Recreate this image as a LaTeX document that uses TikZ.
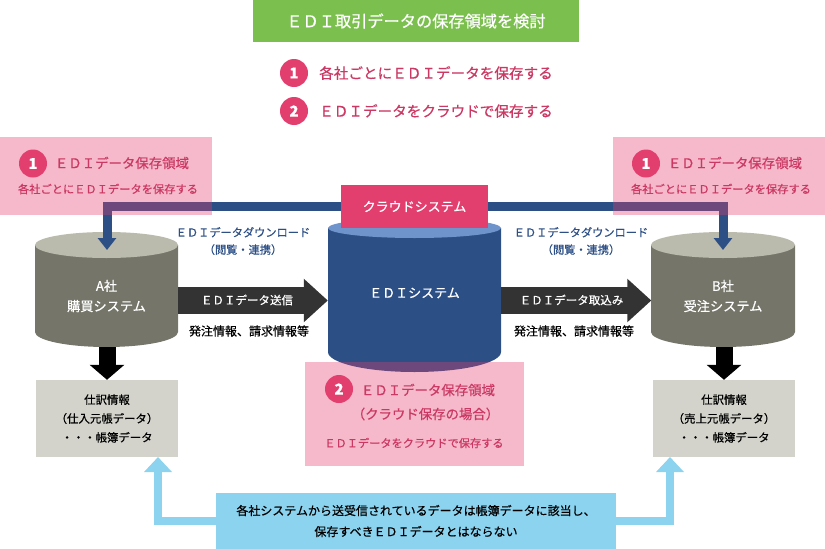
\documentclass[tikz,border=0pt]{standalone}
\usepackage{fontspec}
\setmainfont{Noto Sans CJK JP}[FakeBold=0.5]
\usetikzlibrary{arrows.meta}
\definecolor{crim}{HTML}{E23E6E}
\definecolor{leaf}{HTML}{7BC04E}
\definecolor{navy}{HTML}{2C4F85}
\definecolor{navytop}{HTML}{6F94CB}
\definecolor{sky}{HTML}{8BD3EE}
\definecolor{stone}{HTML}{75756A}
\definecolor{stonetop}{HTML}{BABAAD}
\definecolor{mist}{HTML}{D3D3CB}
\newcommand{\fsz}[1]{\fontsize{#1}{#1}\selectfont}
\tikzset{
    label/.style={inner sep=0pt, align=center, text=#1},
    redlabel/.style={label=crim!90!black},
    pinkbox/.style={fill=crim, fill opacity=.36, text opacity=1, inner sep=0pt},
    numdot/.style={circle, fill=crim, text=white, inner sep=0pt, minimum size=28pt, font=\fsz{15}\bfseries},
    navyline/.style={draw=navy, line width=9pt, -{Triangle[length=12pt,width=18pt]}},
    darkline/.style={draw=black!80, line width=27pt, -{Triangle[length=24pt,width=42pt]}},
    blackline/.style={draw=black, line width=17pt, -{Triangle[length=15pt,width=34pt]}},
    skyline/.style={draw=sky, line width=8.5pt, -{Triangle[length=15pt,width=27pt]}},
    system/.style={inner sep=0pt, text=white, align=center, minimum width=143pt, font=\fsz{13.2}},
    ledger/.style={fill=mist, inner sep=0pt, align=center, minimum width=142pt, minimum height=77pt, font=\fsz{11.4}, text=black},
}
% #1 centre x, #2 half width, #3 side top, #4 side bottom, #5 top radius, #6 bottom radius
\newcommand{\drum}[8]{
    \fill[#7] (#1-#2,#3) -- (#1-#2,#4) arc[start angle=180, end angle=360, x radius=#2, y radius=-#6]
        -- (#1+#2,#3) -- cycle;
    \fill[#8] (#1,#3) ellipse[x radius=#2, y radius=#5];
}
\begin{document}
\begin{tikzpicture}[x=1pt, y=-1pt]

    \useasboundingbox (0,0) rectangle (825,549);

    \drum{106.5}{71.5}{245}{332}{13}{15}{stone}{stonetop}
    \drum{723}{72}{245}{332}{13}{15}{stone}{stonetop}
    \drum{414.5}{86.5}{228}{352}{10}{20}{navy}{navytop}

    \node[system, minimum height=102pt] (sysA) at (106.5,296) {A社\\[7pt]購買システム};
    \node[system, minimum height=102pt] (sysB) at (723,296) {B社\\[7pt]受注システム};
    \node[system, minimum width=173pt, minimum height=152pt] (sysEDI) at (414.5,296) {};
    \node[label=white, font=\fsz{13}] (sysEDItext) at (414.5,293) {ＥＤＩシステム};

    \node[fill=crim, text=white, inner sep=0pt, minimum width=147pt, minimum height=43pt, font=\fsz{13}]
        (cloud) at (414.5,206.5) {クラウドシステム};

    \coordinate (tipA) at (107,250);
    \coordinate (tipB) at (723,250);
    \draw[navyline] (cloud.west) -| (tipA);
    \draw[navyline] (cloud.east) -| (tipB);

    \draw[darkline] (sysA.east |- 0,300.5) -- (sysEDI.west |- 0,300.5);
    \draw[darkline] (sysEDI.east |- 0,300.5) -- (sysB.west |- 0,300.5);

    \node[label=white, font=\fsz{11.5}] (sendtext) at (247,300) {ＥＤＩデータ送信};
    \node[label=white, font=\fsz{11.5}] (recvtext) at (571.5,300) {ＥＤＩデータ取込み};
    \node[label=black, font=\fsz{12}] (sendinfo) at (249,331) {発注情報、請求情報等};
    \node[label=black, font=\fsz{12}] (recvinfo) at (574,331) {発注情報、請求情報等};

    \node[label=navy, font=\fsz{11.2}] (dlA) at (243,241) {ＥＤＩデータダウンロード\\[6pt]（閲覧・連携）};
    \node[label=navy, font=\fsz{11.2}] (dlB) at (581,241) {ＥＤＩデータダウンロード\\[6pt]（閲覧・連携）};

    \node[pinkbox, minimum width=212pt, minimum height=78pt] (pinkA) at (106,176) {};
    \node[pinkbox, minimum width=212pt, minimum height=78pt] (pinkB) at (719,176) {};
    \node[pinkbox, minimum width=219pt, minimum height=104pt] (pinkC) at (414.5,414) {};

    \node[numdot] (numA) at (33,163.5) {1};
    \node[numdot] (numB) at (646,163.5) {1};
    \node[numdot] (numC) at (339,389) {2};

    \node[redlabel, font=\fsz{13.4}] (areaA) at (122,163) {ＥＤＩデータ保存領域};
    \node[redlabel, font=\fsz{11.25}] (eachA) at (108,189) {各社ごとにＥＤＩデータを保存する};
    \node[redlabel, font=\fsz{13.4}] (areaB) at (735,163) {ＥＤＩデータ保存領域};
    \node[redlabel, font=\fsz{11.25}] (eachB) at (721,189) {各社ごとにＥＤＩデータを保存する};
    \node[redlabel, font=\fsz{13.4}] (areaC) at (428,390) {ＥＤＩデータ保存領域};
    \node[redlabel, font=\fsz{13.4}] (areaCsub) at (425.5,414) {（クラウド保存の場合）};
    \node[redlabel, font=\fsz{11.2}] (eachC) at (414,443) {ＥＤＩデータをクラウドで保存する};

    \node[ledger] (ledgerA) at (107,418.5) {仕訳情報\\[7.5pt]（仕入元帳データ）\\[7.5pt]・・・帳簿データ};
    \node[ledger] (ledgerB) at (724,418.5) {仕訳情報\\[7.5pt]（売上元帳データ）\\[7.5pt]・・・帳簿データ};

    \draw[blackline] (ledgerA.north |- sysA.south) -- (ledgerA.north);
    \draw[blackline] (ledgerB.north |- sysB.south) -- (ledgerB.north);

    \node[fill=sky, inner sep=0pt, align=center, minimum width=400pt, minimum height=56pt, font=\fsz{12}]
        (note) at (416,521) {各社システムから送受信されているデータは帳簿データに該当し、\\[9pt]保存すべきＥＤＩデータとはならない};

    \coordinate (tipL) at (158,457);
    \coordinate (tipR) at (670,457);
    \draw[skyline] (note.west) -| (tipL);
    \draw[skyline] (note.east) -| (tipR);

    \node[fill=leaf, text=white, inner sep=0pt, minimum width=326pt, minimum height=42pt, font=\fsz{16.2}]
        (title) at (416,21) {ＥＤＩ取引データの保存領域を検討};

    \node[numdot] (numone) at (294,73) {1};
    \node[numdot] (numtwo) at (294,111) {2};
    \node[redlabel, font=\fsz{14.6}] (optone) at (436,73) {各社ごとにＥＤＩデータを保存する};
    \node[redlabel, font=\fsz{14.6}] (opttwo) at (436,111) {ＥＤＩデータをクラウドで保存する};

\end{tikzpicture}
\end{document}
